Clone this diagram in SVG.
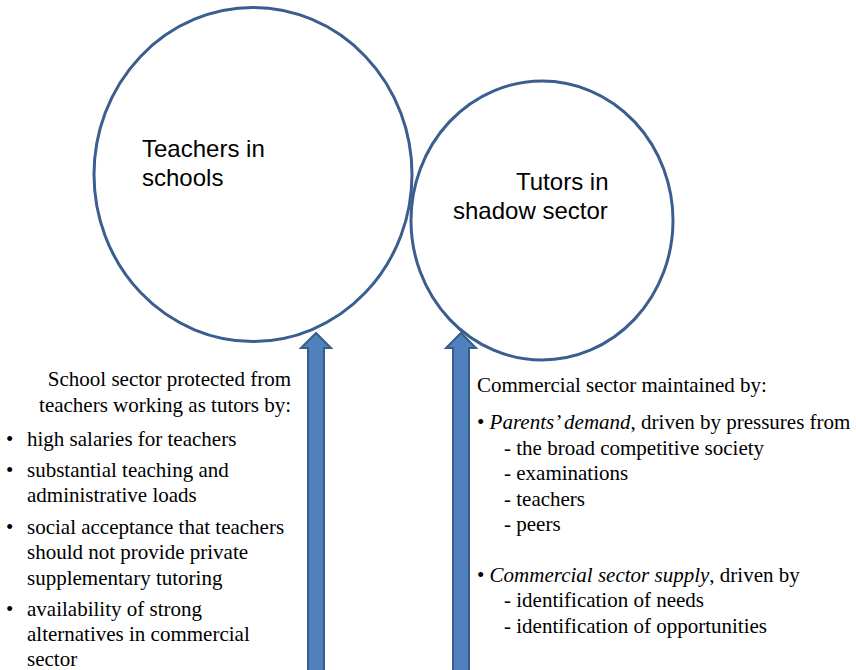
<svg xmlns="http://www.w3.org/2000/svg" width="856" height="670" viewBox="0 0 856 670">
<defs>
<style>
.c{fill:#fff;stroke:#3a5e8f;stroke-width:3}
.a{fill:#4f81bd;stroke:#385d8a;stroke-width:2}
.s{font-family:"Liberation Sans",Arial,sans-serif;font-size:24px;fill:#000}
.t{font-family:"Liberation Serif","Times New Roman",serif;font-size:21px;fill:#000}
</style>
</defs>
<rect width="856" height="670" fill="#fff"/>
<g id="teachers">
<ellipse class="c" cx="253" cy="174.5" rx="159" ry="167"/>
<text class="s" x="142" y="157">Teachers in</text>
<text class="s" x="142" y="186">schools</text>
</g>
<g id="tutors">
<ellipse class="c" cx="542" cy="220.5" rx="131" ry="139.5"/>
<text class="s" x="516" y="190">Tutors in</text>
<text class="s" x="453" y="219">shadow sector</text>
</g>
<g id="connectors">
<path class="a" d="M308 680 L308 348 L301 348 L316 333 L331 348 L324 348 L324 680 Z"/>
<path class="a" d="M453 680 L453 348 L446 348 L461 333 L476 348 L469 348 L469 680 Z"/>
</g>
<g id="school-text">
<text class="t" x="291" y="386" text-anchor="end">School sector protected from</text>
<text class="t" x="291" y="412" text-anchor="end">teachers working as tutors by:</text>
<text class="t" x="6" y="446">•</text><text class="t" x="27" y="446">high salaries for teachers</text>
<text class="t" x="6" y="477">•</text><text class="t" x="27" y="477">substantial teaching and</text>
<text class="t" x="27" y="502">administrative loads</text>
<text class="t" x="6" y="534">•</text><text class="t" x="27" y="534">social acceptance that teachers</text>
<text class="t" x="27" y="559">should not provide private</text>
<text class="t" x="27" y="585">supplementary tutoring</text>
<text class="t" x="6" y="616">•</text><text class="t" x="27" y="616">availability of strong</text>
<text class="t" x="27" y="641">alternatives in commercial</text>
<text class="t" x="27" y="666">sector</text>
</g>
<g id="commercial-text">
<text class="t" x="477" y="392">Commercial sector maintained by:</text>
<text class="t" x="477" y="429">• <tspan font-style="italic">Parents’ demand</tspan>, driven by pressures from</text>
<text class="t" x="504" y="455">- the broad competitive society</text>
<text class="t" x="504" y="480">- examinations</text>
<text class="t" x="504" y="506">- teachers</text>
<text class="t" x="504" y="531">- peers</text>
<text class="t" x="477" y="582">• <tspan font-style="italic">Commercial sector supply</tspan>, driven by</text>
<text class="t" x="504" y="607">- identification of needs</text>
<text class="t" x="504" y="633">- identification of opportunities</text>
</g>
</svg>
